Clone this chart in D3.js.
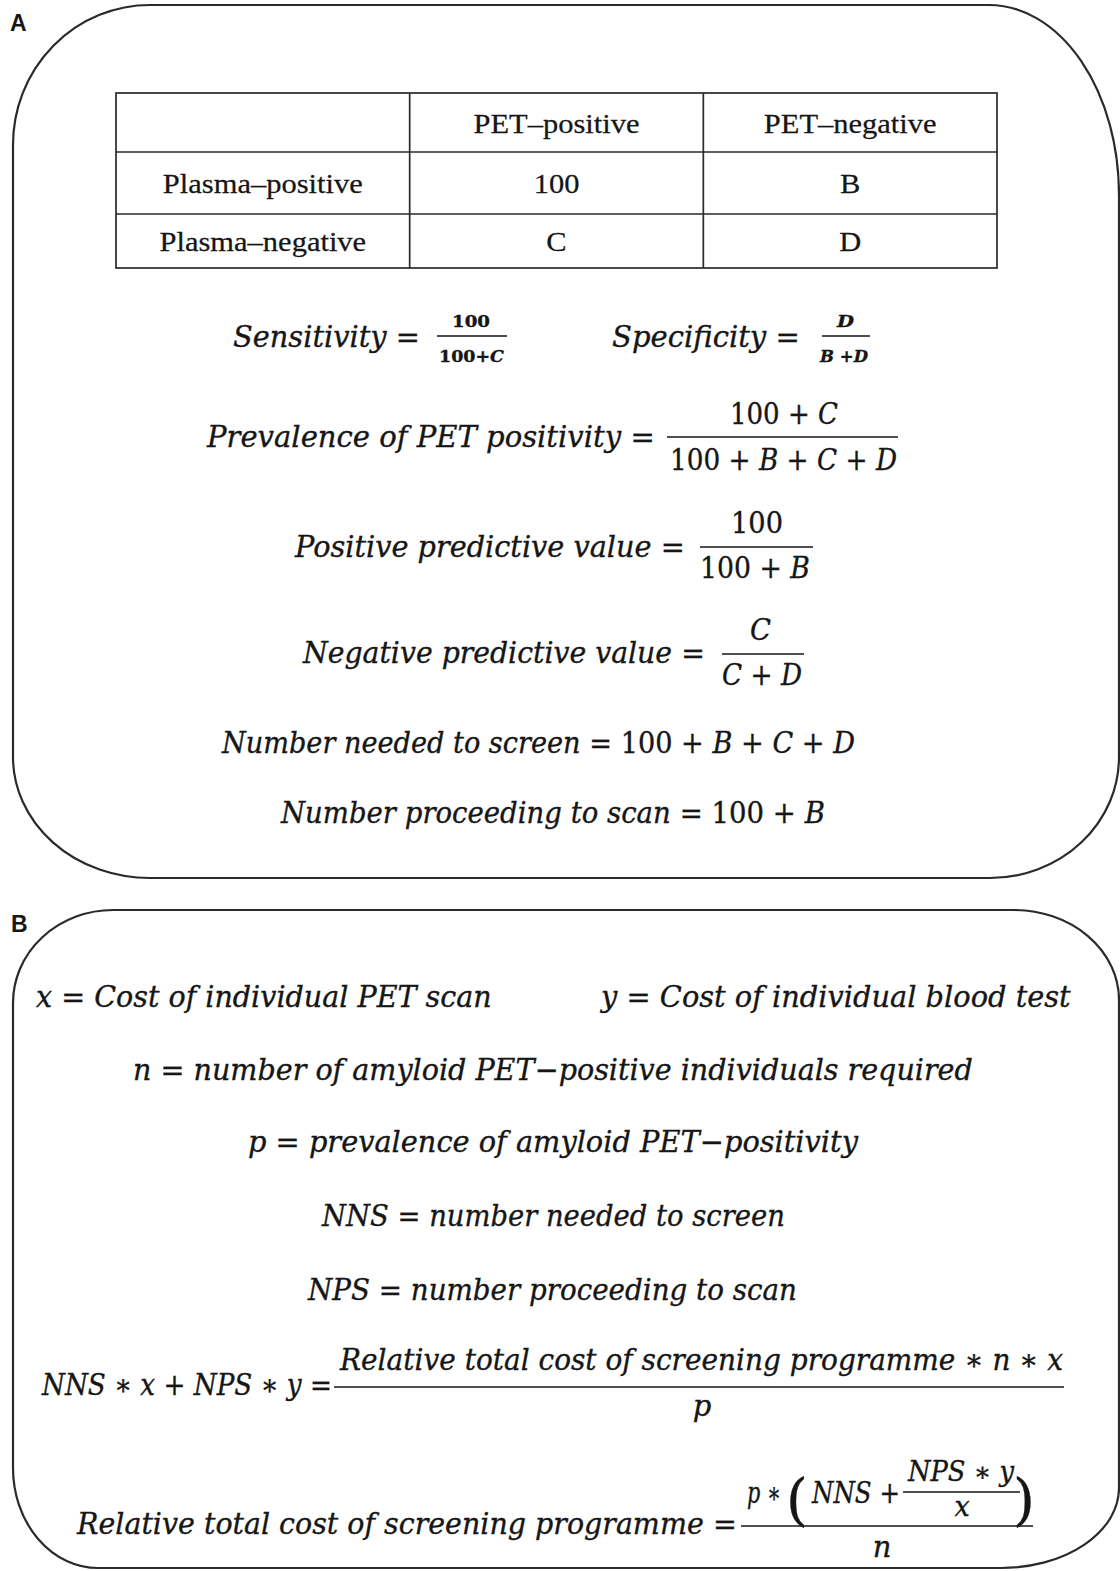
<!DOCTYPE html>
<html><head><meta charset="utf-8">
<script src="https://cdn.jsdelivr.net/npm/d3@7"></script>
<style>body{margin:0;background:#fff} svg{display:block}</style>
</head><body>
<script>
// ---------------- content ----------------
const panelLabels = ["A", "B"];
const tableColumns = ["", "PET–positive", "PET–negative"];
const tableRowLabels = ["Plasma–positive", "Plasma–negative"];
const tableCells = [["100", "B"], ["C", "D"]];
const panelAFormulas = [
  {lhs: "Sensitivity =", num: "100", den: "100+C", small: true},
  {lhs: "Specificity =", num: "D", den: "B +D", small: true},
  {lhs: "Prevalence of PET positivity =", num: "100 + C", den: "100 + B + C + D"},
  {lhs: "Positive predictive value =", num: "100", den: "100 + B"},
  {lhs: "Negative predictive value =", num: "C", den: "C + D"},
  {lhs: "Number needed to screen = 100 + B + C + D"},
  {lhs: "Number proceeding to scan = 100 + B"}
];
const panelBDefinitions = [
  "x = Cost of individual PET scan",
  "y = Cost of individual blood test",
  "n = number of amyloid PET−positive individuals required",
  "p = prevalence of amyloid PET−positivity",
  "NNS = number needed to screen",
  "NPS = number proceeding to scan"
];
const costEquation = {lhs: "NNS ∗ x + NPS ∗ y =", num: "Relative total cost of screening programme ∗ n ∗ x", den: "p"};
const relCostEquation = {lhs: "Relative total cost of screening programme =", pre: "p ∗", open: "(", mid: "NNS +", innerNum: "NPS ∗ y", innerDen: "x", close: ")", den: "n"};

// ---------------- layout / style ----------------
const W = 1120, H = 1571;
const INK = "#161616", LINE = "#2a2a2a";
const MATH_FONT = "'DejaVu Serif', serif";
const TABLE_FONT = "'Liberation Serif', 'Times New Roman', serif";
const layout = {
  panels: [
    {x0: 13, y0: 5, x1: 1119, y1: 878, tl: [137, 140], tr: [130, 190], br: [129, 121], bl: [137, 121], label: [10, 31]},
    {x0: 13, y0: 910, x1: 1119, y1: 1568, tl: [100, 93], tr: [105, 90], br: [118, 80], bl: [85, 100], label: [11, 932]}
  ],
  table: {x0: 116, x1: 997, rowEdges: [93, 152, 214, 268], stretch: 1.13, size: 27},
  mathSize: 29,
  aFormulas: [
    {lhs: [233, 420, 347], bar: [437, 507, 336], num: [452, 490, 327], den: [439, 504, 362]},
    {lhs: [612, 800, 347], bar: [822, 870, 336], num: [837, 854, 327], den: [820, 868, 362]},
    {lhs: [207, 655, 447], bar: [667, 898, 437], num: [730, 838, 424], den: [670, 897, 470]},
    {lhs: [295, 685, 557], bar: [700, 813, 547], num: [731, 783, 533], den: [700, 810, 578]},
    {lhs: [303, 705, 663], bar: [722, 804, 654], num: [750, 771, 640], den: [722, 802, 685]},
    {lhs: [222, 855, 753]},
    {lhs: [281, 825, 823]}
  ],
  bDefs: [[36, 492, 1007], [601, 1071, 1007], [133, 973, 1080], [248, 858, 1152], [322, 785, 1226], [308, 797, 1300]],
  cost: {lhs: [42, 332, 1395], bar: [334, 1064, 1387], num: [340, 1063, 1370], den: [702, 1416]},
  rel: {lhs: [77, 737, 1534], bar: [741, 1033, 1526], pre: [747, 781, 1503], open: [797, 1519], mid: [812, 900, 1503],
        innerBar: [903, 1020, 1492], innerNum: [908, 1014, 1481], innerDen: [962, 1516], close: [1024, 1519], den: [882, 1557]}
};

const svg = d3.select("body").append("svg").attr("width", W).attr("height", H).attr("viewBox", `0 0 ${W} ${H}`);
svg.append("rect").attr("width", W).attr("height", H).attr("fill", "#fff");

// panels
function roundedPath(p) {
  const {x0, y0, x1, y1, tl, tr, br, bl} = p;
  return `M${x0 + tl[0]},${y0} L${x1 - tr[0]},${y0} A${tr[0]},${tr[1]} 0 0 1 ${x1},${y0 + tr[1]}` +
    ` L${x1},${y1 - br[1]} A${br[0]},${br[1]} 0 0 1 ${x1 - br[0]},${y1}` +
    ` L${x0 + bl[0]},${y1} A${bl[0]},${bl[1]} 0 0 1 ${x0},${y1 - bl[1]}` +
    ` L${x0},${y0 + tl[1]} A${tl[0]},${tl[1]} 0 0 1 ${x0 + tl[0]},${y0} Z`;
}
svg.selectAll("path.panel").data(layout.panels).join("path").attr("class", "panel")
  .attr("d", roundedPath).attr("fill", "none").attr("stroke", LINE).attr("stroke-width", 2.2);
svg.selectAll("text.plabel").data(panelLabels).join("text").attr("class", "plabel")
  .attr("x", (d, i) => layout.panels[i].label[0]).attr("y", (d, i) => layout.panels[i].label[1])
  .attr("font-family", "'Liberation Sans', Arial, sans-serif").attr("font-weight", "bold").attr("font-size", 23)
  .attr("fill", INK).text(d => d);

// table
const T = layout.table;
const xCol = d3.scaleBand().domain(tableColumns.map((d, i) => i)).range([T.x0, T.x1]);
const gT = svg.append("g");
gT.append("rect").attr("x", T.x0).attr("y", T.rowEdges[0]).attr("width", T.x1 - T.x0)
  .attr("height", T.rowEdges[3] - T.rowEdges[0]).attr("fill", "none").attr("stroke", LINE).attr("stroke-width", 1.7);
gT.selectAll("line.v").data([1, 2]).join("line").attr("class", "v")
  .attr("x1", d => xCol(d)).attr("x2", d => xCol(d)).attr("y1", T.rowEdges[0]).attr("y2", T.rowEdges[3])
  .attr("stroke", LINE).attr("stroke-width", 1.7);
gT.selectAll("line.h").data([1, 2]).join("line").attr("class", "h")
  .attr("x1", T.x0).attr("x2", T.x1).attr("y1", d => T.rowEdges[d]).attr("y2", d => T.rowEdges[d])
  .attr("stroke", LINE).attr("stroke-width", 1.7);
const tableTexts = [];
tableColumns.forEach((c, i) => { if (c) tableTexts.push({t: c, col: i, row: 0}); });
tableRowLabels.forEach((r, j) => {
  tableTexts.push({t: r, col: 0, row: j + 1});
  tableCells[j].forEach((v, k) => tableTexts.push({t: v, col: k + 1, row: j + 1}));
});
gT.selectAll("g.cell").data(tableTexts).join("g").attr("class", "cell")
  .attr("transform", d => `translate(${xCol(d.col) + xCol.bandwidth() / 2},${(T.rowEdges[d.row] + T.rowEdges[d.row + 1]) / 2 + 10}) scale(${T.stretch},1)`)
  .append("text")
  .attr("text-anchor", "middle").attr("font-family", TABLE_FONT).attr("font-size", T.size).attr("fill", INK)
  .attr("stroke", INK).attr("stroke-width", 0.25)
  .text(d => d.t);

// math text: runs of italic letters / upright symbols, laid out at natural widths then scaled into a box
function mathText(g, str, o) {
  const size = o.size || layout.mathSize;
  const runs = (str.match(/[A-Za-z]+(?: [A-Za-z]+)*|[^A-Za-z]+/g) || []);
  const grp = g.append("g");
  const items = runs.map(r => {
    const italic = /[A-Za-z]/.test(r);
    const t = grp.append("text").attr("x", 0).attr("y", 0).attr("xml:space", "preserve")
      .attr("font-family", MATH_FONT).attr("font-size", size).attr("fill", INK)
      .attr("stroke", INK).attr("stroke-width", 0.35)
      .attr("font-style", italic ? "italic" : "normal").text(r);
    if (o.weight) t.attr("font-weight", o.weight);
    return {t, w: t.node().getComputedTextLength()};
  });
  const natural = d3.sum(items, d => d.w);
  const total = o.width || natural;
  const k = total / natural;
  let x = 0;
  items.forEach(d => { d.t.attr("x", x); x += d.w; });
  const x0 = o.anchor === "middle" ? o.x - total / 2 : o.x;
  grp.attr("transform", `translate(${x0},${o.y}) scale(${k},1)`);
  return grp;
}
function span(g, str, s, opts = {}) { // s = [x0, x1, baseline]
  return mathText(g, str, Object.assign({x: s[0], y: s[2], width: s[1] - s[0]}, opts));
}
function bar(g, b, w = 1.7) {
  g.append("line").attr("x1", b[0]).attr("x2", b[1]).attr("y1", b[2]).attr("y2", b[2])
    .attr("stroke", INK).attr("stroke-width", w);
}

// panel A formulas
const gA = svg.append("g");
panelAFormulas.forEach((f, i) => {
  const l = layout.aFormulas[i];
  span(gA, f.lhs, l.lhs);
  if (f.num) {
    const opt = f.small ? {size: 16, weight: "bold"} : {};
    bar(gA, l.bar, f.small ? 1.4 : 1.7);
    span(gA, f.num, l.num, opt);
    span(gA, f.den, l.den, opt);
  }
});

// panel B
const gB = svg.append("g");
panelBDefinitions.forEach((d, i) => span(gB, d, layout.bDefs[i]));
const C = layout.cost;
span(gB, costEquation.lhs, C.lhs);
bar(gB, C.bar);
span(gB, costEquation.num, C.num);
mathText(gB, costEquation.den, {x: C.den[0], y: C.den[1], anchor: "middle"});

const R = layout.rel;
span(gB, relCostEquation.lhs, R.lhs);
bar(gB, R.bar);
span(gB, relCostEquation.pre, R.pre);
mathText(gB, relCostEquation.open, {x: R.open[0], y: R.open[1], anchor: "middle", size: 56});
span(gB, relCostEquation.mid, R.mid);
bar(gB, R.innerBar, 1.4);
span(gB, relCostEquation.innerNum, R.innerNum, {size: 27});
mathText(gB, relCostEquation.innerDen, {x: R.innerDen[0], y: R.innerDen[1], anchor: "middle", size: 27});
mathText(gB, relCostEquation.close, {x: R.close[0], y: R.close[1], anchor: "middle", size: 56});
mathText(gB, relCostEquation.den, {x: R.den[0], y: R.den[1], anchor: "middle"});
</script>
</body></html>
